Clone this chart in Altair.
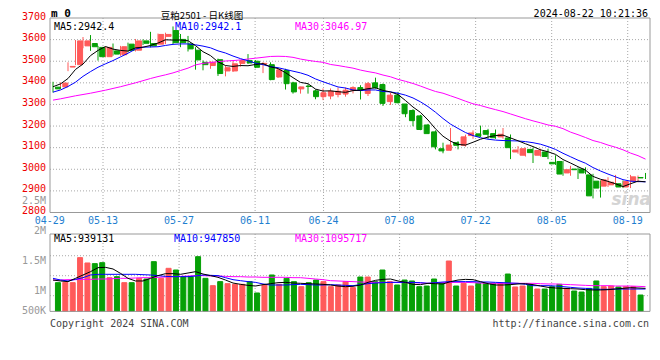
import altair as alt
import pandas as pd

# ---------------- data ----------------
dates = ["04-29", "05-13", "05-27", "06-11", "06-24", "07-08", "07-22", "08-05", "08-19"]
date_idx = [0, 7, 17, 27, 36, 46, 56, 66, 76]

opens = [3380,3381,3473,3484,3571,3582,3564,3521,3548,3530, 3579,3551,3594,3582,3579,3615,3642,3601,3580,3551,
         3495,3480,3507,3455,3455,3490,3503,3500,3487,3484, 3427,3457,3400,3372,3385,3363,3336,3339,3346,3348,
         3366,3378,3351,3400,3392,3313,3343,3302,3272,3247, 3205,3173,3095,3088,3123,3111,3156,3164,3179,3165,
         3150,3145,3080,3065,3092,3065,3080,3032,3036,2983, 3001,3001,2974,2945,2922,2928,2933,2918,2946,2962]
closes = [3372,3399,3476,3594,3594,3567,3521,3564,3533,3567, 3550,3594,3583,3571,3624,3624,3586,3586,3557,3506,
          3484,3495,3443,3470,3488,3503,3492,3472,3490,3415, 3460,3396,3358,3381,3383,3336,3354,3361,3361,3366,
          3378,3366,3396,3378,3305,3343,3308,3257,3225,3184, 3165,3104,3085,3112,3111,3150,3168,3153,3162,3146,
          3162,3100,3089,3095,3077,3087,3059,3025,2978,2998, 2998,2983,2877,2913,2951,2940,2918,2943,2965,2960]
highs = [3405,3402,3495,3598,3612,3621,3571,3568,3582,3571, 3586,3603,3601,3636,3628,3632,3661,3626,3617,3565,
         3504,3500,3512,3480,3500,3506,3533,3505,3495,3495, 3465,3465,3405,3382,3393,3369,3374,3374,3378,3378,
         3384,3389,3404,3424,3397,3354,3358,3302,3278,3252, 3210,3180,3123,3191,3130,3160,3180,3202,3187,3184,
         3191,3161,3107,3100,3100,3095,3095,3065,3039,3016, 3009,3009,2979,2948,2963,2974,2948,2974,2971,2983]
lows = [3355,3375,3454,3482,3560,3548,3503,3518,3526,3525, 3541,3545,3575,3564,3575,3579,3579,3565,3545,3461,
        3458,3465,3432,3430,3450,3475,3488,3468,3445,3412, 3423,3369,3350,3350,3350,3324,3320,3324,3333,3336,
        3351,3323,3339,3373,3293,3298,3305,3241,3199,3181, 3165,3092,3074,3085,3092,3105,3141,3150,3141,3141,
        3141,3047,3072,3059,3029,3059,3047,3020,2970,2970, 2955,2977,2865,2869,2918,2925,2913,2913,2940,2955]

ma5 = [3382,3395,3420,3462,3487,3526,3550,3568,3556,3550, 3547,3562,3565,3573,3584,3599,3598,3598,3595,3572,
       3544,3526,3497,3480,3476,3480,3479,3485,3489,3474, 3466,3447,3424,3402,3396,3371,3362,3363,3359,3356,
       3364,3366,3373,3377,3365,3358,3346,3318,3288,3263, 3228,3187,3153,3130,3115,3112,3125,3139,3149,3156,
       3158,3145,3132,3118,3105,3090,3081,3069,3045,3029, 3012,2996,2967,2954,2944,2933,2920,2933,2945,2942]
ma10 = [3357,3367,3383,3403,3430,3452,3472,3488,3503,3520, 3537,3556,3565,3566,3567,3573,3578,3580,3580,3576,
        3570,3562,3548,3538,3524,3512,3502,3491,3484,3475, 3470,3462,3454,3446,3435,3418,3405,3393,3381,3376,
        3367,3364,3367,3367,3360,3358,3352,3343,3330,3312, 3290,3264,3235,3209,3189,3170,3156,3146,3139,3135,
        3133,3132,3131,3128,3123,3116,3105,3092,3074,3058, 3042,3028,3008,2992,2978,2965,2952,2945,2943,2942]
ma30 = [3320,3326,3333,3340,3346,3352,3359,3366,3374,3382, 3391,3400,3410,3420,3429,3437,3446,3457,3468,3483,
        3490,3494,3498,3501,3503,3506,3510,3514,3518,3522, 3523,3522,3518,3510,3504,3499,3495,3485,3480,3474,
        3468,3459,3452,3446,3436,3428,3416,3407,3397,3385, 3372,3360,3352,3340,3328,3315,3303,3295,3285,3276,
        3267,3256,3245,3234,3224,3215,3205,3199,3188,3172, 3160,3147,3133,3124,3112,3102,3090,3075,3063,3047]

# volume in thousands of lots
vols_k = [1139,1144,1139,1556,1467,1456,1472,1222,1239,1139, 1139,1211,1200,1489,1211,1378,1350,1239,1239,1572,
          1211,1089,1156,1122,1111,1111,1156,967,1100,1267, 1111,1211,1156,1072,1139,1183,1156,1072,1100,1156,
          1056,1233,1233,1156,1350,1156,1100,1183,1167,1072, 1083,1200,1128,1500,1083,1128,1083,1128,1128,1128,
          1128,1283,1067,1083,1111,1033,1033,1072,1111,1044, 1000,983,1044,1167,1072,1083,1067,1072,1072,933]
vma5_k = [1183,1167,1156,1211,1267,1322,1389,1394,1367,1294, 1211,1167,1167,1211,1256,1289,1289,1278,1300,1322,
          1283,1256,1228,1183,1133,1111,1094,1083,1106,1122, 1139,1144,1133,1128,1122,1117,1111,1100,1083,1072,
          1078,1100,1144,1178,1194,1200,1167,1144,1111,1106, 1128,1122,1117,1156,1183,1194,1189,1156,1122,1100,
          1100,1106,1117,1122,1106,1083,1061,1050,1044,1039, 1033,1022,1017,1017,1022,1033,1044,1056,1050,1044]
vma10_k = [1211,1183,1167,1194,1222,1267,1278,1278,1278,1278, 1278,1278,1272,1267,1256,1244,1239,1239,1239,1250,
           1267,1261,1256,1222,1189,1172,1156,1144,1117,1100, 1100,1100,1106,1111,1106,1100,1100,1106,1100,1094,
           1089,1106,1122,1133,1139,1144,1144,1144,1144,1139, 1128,1139,1150,1156,1156,1156,1156,1150,1150,1144,
           1139,1133,1128,1111,1089,1089,1089,1083,1072,1061, 1050,1044,1033,1028,1028,1033,1033,1033,1033,1033]
vma30_k = [1183,1183,1189,1189,1194,1194,1200,1200,1206,1211, 1211,1217,1222,1222,1228,1233,1239,1244,1250,1256,
           1256,1250,1250,1244,1239,1239,1233,1233,1228,1228, 1228,1228,1222,1222,1211,1200,1189,1172,1167,1161,
           1156,1150,1144,1144,1144,1144,1144,1139,1139,1133, 1128,1133,1139,1144,1144,1144,1139,1133,1128,1128,
           1128,1128,1128,1128,1128,1122,1117,1117,1111,1106, 1100,1094,1089,1089,1089,1083,1083,1083,1078,1072]

price_ticks = [2800, 2900, 3000, 3100, 3200, 3300, 3400, 3500, 3600, 3700]
price_grid = [2900, 3000, 3100, 3200, 3300, 3400, 3500, 3600]
vol_ticks = [2500000, 2000000, 1500000, 1000000]
vol_tick_labels = ["2.5M", "2M", "1.5M", "1M"]
vol_grid = [922000, 1255000, 1588000]

# ---------------- styling ----------------
RED = "#ff5a5a"
GREEN = "#06a006"
BLUE = "#0000ff"
MAGENTA = "#ff00ff"
GRID = "#a8a8a8"
BORDER = "#999999"
DATEC = "#1f7fd0"
MONO = "DejaVu Sans Mono"
CJK = "Noto Sans CJK SC"
W = 600
H = 294
P_RANGE = [194.5, 0]
V_BASE = 660000
V_RANGE = [293.4, 216]

n = len(opens)
df = pd.DataFrame({
    "i": list(range(n)), "open": opens, "close": closes, "high": highs, "low": lows,
    "vol": [v * 1000 for v in vols_k],
    "ma5": ma5, "ma10": ma10, "ma30": ma30,
    "vma5": [v * 1000 for v in vma5_k], "vma10": [v * 1000 for v in vma10_k],
    "vma30": [v * 1000 for v in vma30_k],
})
df["dir"] = ["up" if c >= o else "down" for o, c in zip(opens, closes)]

xs = alt.Scale(domain=[-0.4, n - 0.4], zero=False, nice=False)
gs = alt.Scale(domain=[0.03, 78.93], zero=False, nice=False)
ps = alt.Scale(domain=[2800, 3700], range=P_RANGE, zero=False, nice=False)
vs = alt.Scale(domain=[V_BASE, 1950000], range=V_RANGE, zero=False, nice=False)
cs = alt.Scale(domain=["up", "down"], range=[RED, GREEN])

X = alt.X("i:Q", scale=xs, axis=None)
col = alt.Color("dir:N", scale=cs, legend=None)
stk = alt.Stroke("dir:N", scale=cs, legend=None)

base = alt.Chart(df)

# grids
pg = alt.Chart(pd.DataFrame({"p": price_grid})).mark_rule(color=GRID, strokeDash=[1, 2]).encode(
    y=alt.Y("p:Q", scale=ps, axis=None), x=alt.value(0), x2=alt.value(W))
vg = alt.Chart(pd.DataFrame({"v": vol_grid})).mark_rule(color=GRID, strokeDash=[1, 2]).encode(
    y=alt.Y("v:Q", scale=vs, axis=None), x=alt.value(0), x2=alt.value(W))
ddf = pd.DataFrame({"g": date_idx, "d": dates})
ddf_grid = ddf[ddf["g"] > 0]
dg1 = alt.Chart(ddf_grid).mark_rule(color=GRID, strokeDash=[1, 2]).encode(
    x=alt.X("g:Q", scale=gs, axis=None), y=alt.value(0), y2=alt.value(P_RANGE[0]))
dg2 = alt.Chart(ddf_grid).mark_rule(color=GRID, strokeDash=[1, 2]).encode(
    x=alt.X("g:Q", scale=gs, axis=None), y=alt.value(V_RANGE[1]), y2=alt.value(V_RANGE[0]))
dlab = alt.Chart(ddf).mark_text(align="center", baseline="middle", font=MONO, fontSize=10, color=DATEC).encode(
    x=alt.X("g:Q", scale=gs, axis=None), y=alt.value(203), text="d:N")

# candles
wick = base.mark_rule(strokeWidth=1).encode(
    x=X, y=alt.Y("low:Q", scale=ps, axis=None), y2="high:Q", color=col)
body = base.mark_bar(size=5, strokeWidth=1).encode(
    x=X, y=alt.Y("open:Q", scale=ps, axis=None), y2="close:Q", color=col, stroke=stk)
volbar = base.mark_bar(size=5, strokeWidth=1).encode(
    x=X, y=alt.Y("vol:Q", scale=vs, axis=None), y2=alt.datum(V_BASE), color=col, stroke=stk)

def line(field, color, scale):
    return base.mark_line(color=color, strokeWidth=1).encode(
        x=X, y=alt.Y(f"{field}:Q", scale=scale, axis=None))

lines = [line("ma30", MAGENTA, ps), line("ma10", BLUE, ps), line("ma5", "black", ps),
         line("vma30", MAGENTA, vs), line("vma10", BLUE, vs), line("vma5", "black", vs)]

# borders
one = pd.DataFrame({"k": [0]})
b1 = alt.Chart(one).mark_rect(fillOpacity=0, stroke=BORDER, strokeWidth=1).encode(
    x=alt.value(0), x2=alt.value(W), y=alt.value(0), y2=alt.value(P_RANGE[0]))
b2 = alt.Chart(one).mark_rect(fillOpacity=0, stroke=BORDER, strokeWidth=1).encode(
    x=alt.value(0), x2=alt.value(W), y=alt.value(V_RANGE[1]), y2=alt.value(V_RANGE[0]))

# axis labels
plab = alt.Chart(pd.DataFrame({"p": price_ticks, "lab": [str(p) for p in price_ticks]})).mark_text(
    align="right", baseline="middle", dy=-1.5, font=MONO, fontSize=10, color="#ee0000").encode(
    x=alt.value(-4), y=alt.Y("p:Q", scale=ps, axis=None), text="lab:N")
vlab = alt.Chart(pd.DataFrame({"v": vol_ticks, "lab": vol_tick_labels})).mark_text(
    align="right", baseline="middle", font=MONO, fontSize=10, color="#999999").encode(
    x=alt.value(-4), y=alt.Y("v:Q", scale=vs, axis=None), text="lab:N")


def txt(s, x, y, color="black", size=10, align="left", font=MONO, weight="normal", style="normal"):
    return alt.Chart(pd.DataFrame({"t": [s]})).mark_text(
        align=align, baseline="middle", font=font, fontSize=size, fontWeight=weight,
        fontStyle=style, color=color).encode(x=alt.value(x), y=alt.value(y), text="t:N")

texts = [
    txt("m 0", 1, -4, size=11, weight="bold"),
    txt("豆粕2501 - 日K线图", 152, -2.5, size=9.5, align="center", font=CJK),
    txt("2024-08-22 10:21:36", 598, -4, align="right"),
    txt("MA5:2942.4", 4, 8.5),
    txt("MA10:2942.1", 125, 8.5, BLUE),
    txt("MA30:3046.97", 245, 8.5, MAGENTA),
    txt("MA5:939131", 4, 220.5),
    txt("MA10:947850", 124, 220.5, BLUE),
    txt("MA30:1095717", 245, 220.5, MAGENTA),
    txt("500K", -4, 293, "#999999", align="right"),
    txt("Copyright 2024 SINA.COM", 0, 306, "#444444"),
    txt("http://finance.sina.com.cn", 599, 306, "#444444", align="right"),
    txt("sina", 601, 182, "#d4d4d4", size=17, align="right", font="DejaVu Sans", weight="bold", style="italic"),
]

chart = alt.layer(
    pg, vg, dg1, dg2, wick, body, volbar, *lines, b1, b2, plab, vlab, dlab, *texts
).resolve_scale(
    x="independent", y="independent"
).properties(
    width=W, height=H,
    autosize=alt.AutoSizeParams(type="none"),
    padding={"left": 42, "top": 10, "right": 2, "bottom": 30},
    background="white",
).configure_view(stroke=None)

chart.save("out.html", embed_options={"renderer": "svg", "actions": False})
